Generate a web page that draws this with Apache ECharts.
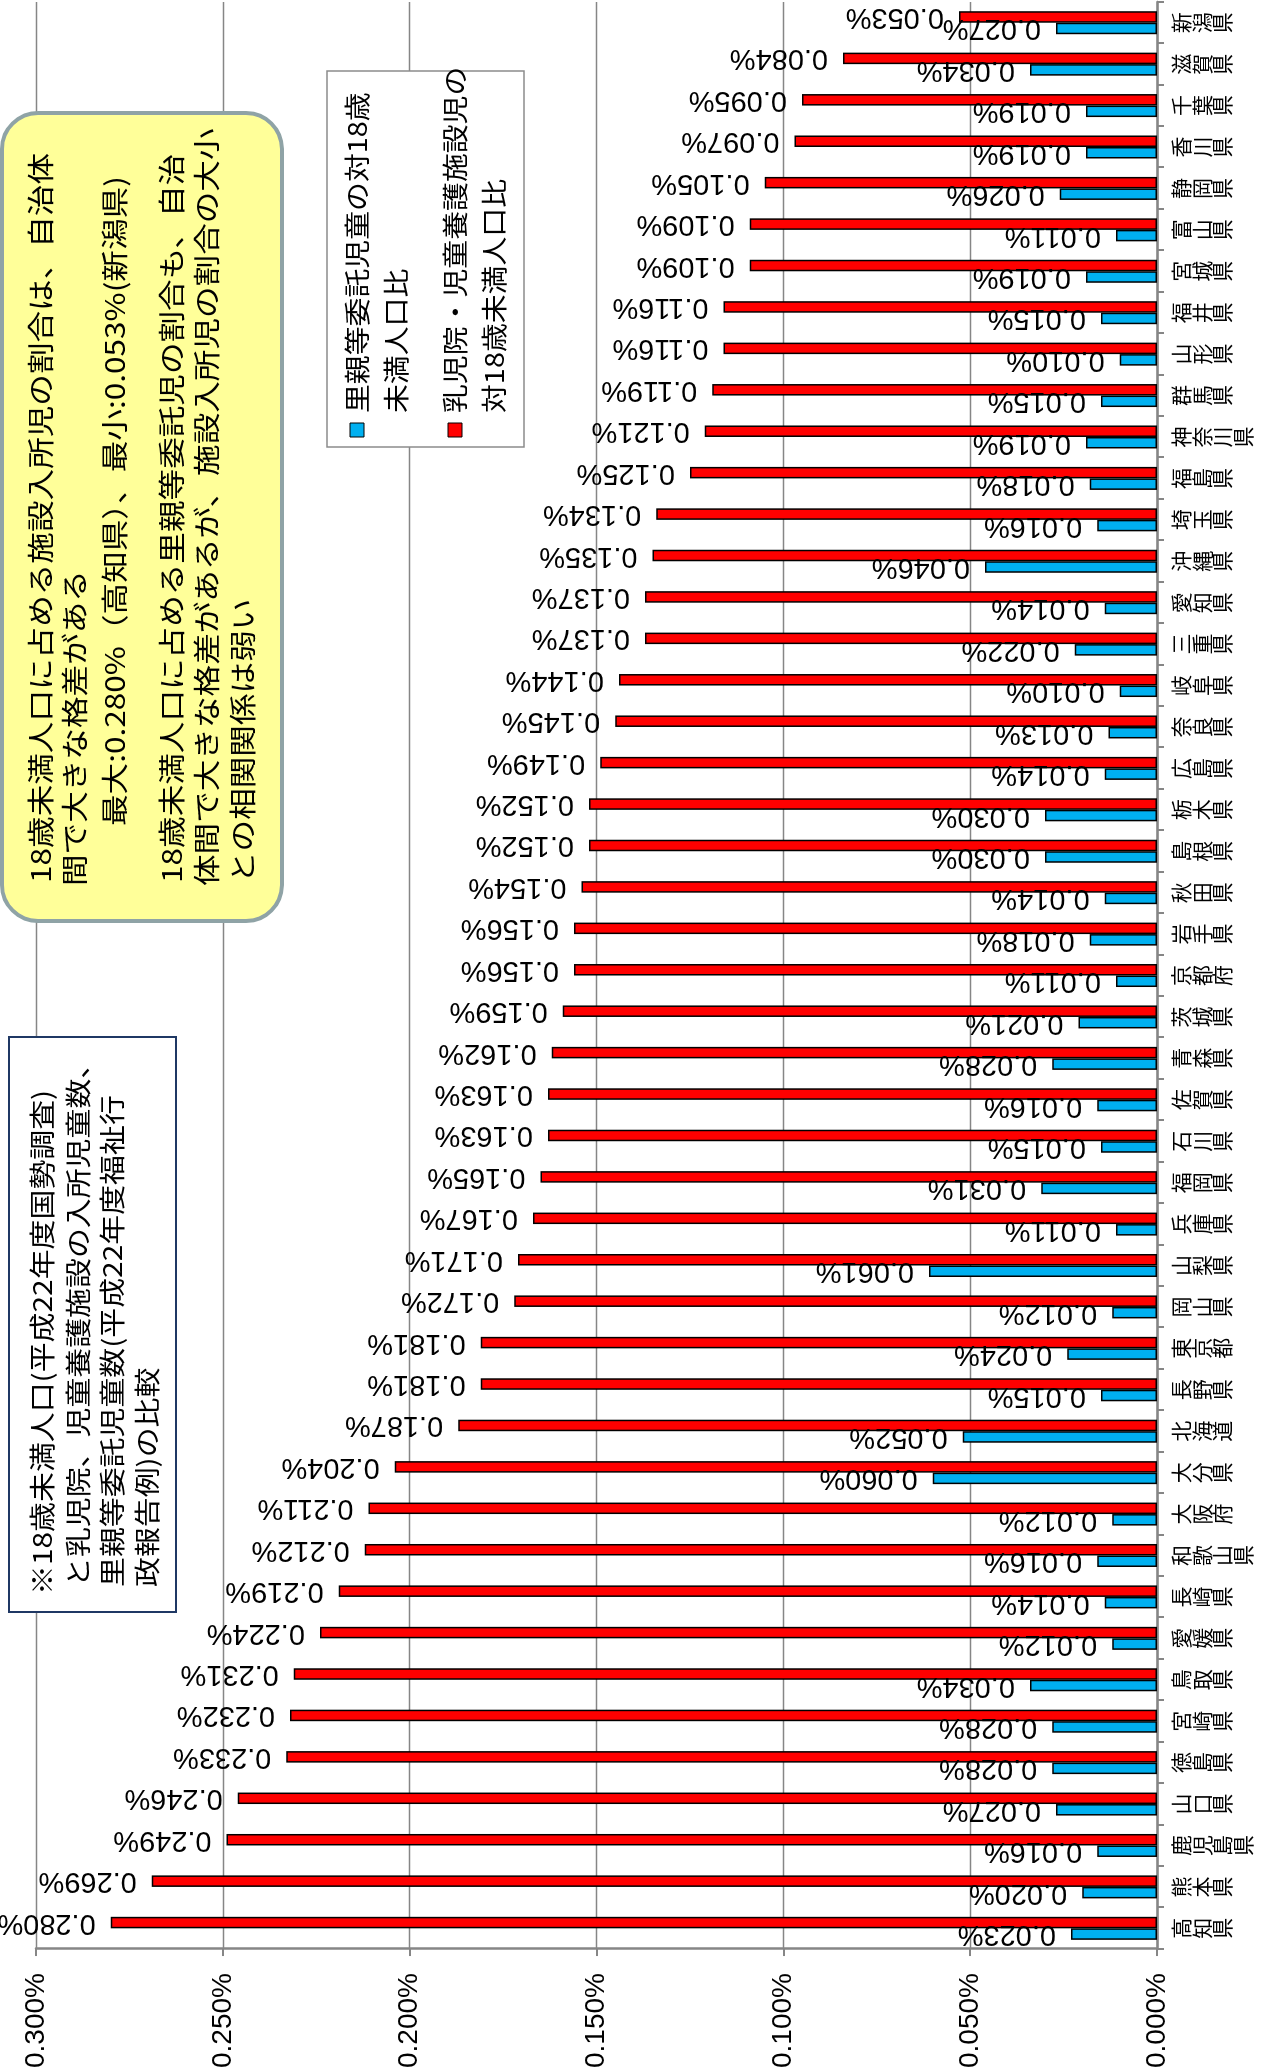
<!DOCTYPE html>
<html>
<head>
<meta charset="utf-8">
<script src="https://cdn.jsdelivr.net/npm/echarts/dist/echarts.min.js"></script>
<style>
html,body{margin:0;padding:0;background:#fff;overflow:hidden;width:1263px;height:2071px;}
#chart{position:absolute;left:0;top:0;width:2071px;height:1263px;transform-origin:0 0;transform:translateY(2071px) rotate(-90deg);}
</style>
</head>
<body>
<div id="chart"></div>
<script>
// Categories (left → right in the unrotated chart = bottom → top on the page)
const categories = ['高知県','熊本県','鹿児島県','山口県','徳島県','宮崎県','鳥取県','愛媛県','長崎県','和歌山県','大阪府','大分県','北海道','長野県','東京都','岡山県','山梨県','兵庫県','福岡県','石川県','佐賀県','青森県','茨城県','京都府','岩手県','秋田県','島根県','栃木県','広島県','奈良県','岐阜県','三重県','愛知県','沖縄県','埼玉県','福島県','神奈川県','群馬県','山形県','福井県','宮城県','富山県','静岡県','香川県','千葉県','滋賀県','新潟県'];

// 里親等委託児童の対18歳未満人口比 (%)
const fosterRate = [0.023,0.020,0.016,0.027,0.028,0.028,0.034,0.012,0.014,0.016,0.012,0.060,0.052,0.015,0.024,0.012,0.061,0.011,0.031,0.015,0.016,0.028,0.021,0.011,0.018,0.014,0.030,0.030,0.014,0.013,0.010,0.022,0.014,0.046,0.016,0.018,0.019,0.015,0.010,0.015,0.019,0.011,0.026,0.019,0.019,0.034,0.027];

// 乳児院・児童養護施設児の対18歳未満人口比 (%)
const facilityRate = [0.280,0.269,0.249,0.246,0.233,0.232,0.231,0.224,0.219,0.212,0.211,0.204,0.187,0.181,0.181,0.172,0.171,0.167,0.165,0.163,0.163,0.162,0.159,0.156,0.156,0.154,0.152,0.152,0.149,0.145,0.144,0.137,0.137,0.135,0.134,0.125,0.121,0.119,0.116,0.116,0.109,0.109,0.105,0.097,0.095,0.084,0.053];

// Value axis ticks (%)
const axisMin = 0;
const axisMax = 0.3;
const axisStep = 0.05;

const seriesNames = ['里親等委託児童の対18歳未満人口比', '乳児院・児童養護施設児の対18歳未満人口比'];
const legendLines = [['里親等委託児童の対18歳', '未満人口比'], ['乳児院・児童養護施設児の', '対18歳未満人口比']];

const summaryLines = [
  '18歳未満人口に占める施設入所児の割合は、自治体',
  '間で大きな格差がある',
  '最大:0.280%（高知県）、最小:0.053%(新潟県)',
  '18歳未満人口に占める里親等委託児の割合も、自治',
  '体間で大きな格差があるが、施設入所児の割合の大小',
  'との相関関係は弱い'
];
const noteLines = [
  '※18歳未満人口(平成22年度国勢調査)',
  'と乳児院、児童養護施設の入所児童数、',
  '里親等委託児童数(平成22年度福祉行',
  '政報告例)の比較'
];

const BLUE = '#00B0F0', RED = '#FF0000';
const NUMFONT = "'Liberation Sans Narrow','Liberation Sans',sans-serif";
const JPFONT = "'Noto Sans CJK JP',sans-serif";

function pct(v){ return v.toFixed(3) + '%'; }

function textEl(str, x, y, size, sx){
  return { type:'text', x:x, y:y, scaleX:sx, z:101,
    style:{ text:str, fill:'#000', font: size + 'px ' + JPFONT, align:'left', verticalAlign:'middle' } };
}

const graphics = [];
// summary (yellow rounded box)
graphics.push({ type:'rect', z:100, shape:{ x:1150, y:2, width:808, height:280, r:36 },
  style:{ fill:'#FFFF99', stroke:'#8FA3A6', lineWidth:4 } });
const sumY = [41, 75, 115, 172, 207, 243];
const sumX = [1188, 1185, 1245, 1188, 1185, 1188];
summaryLines.forEach((s,i)=>graphics.push(textEl(s, sumX[i], sumY[i], 27, 1.17)));
// note box
graphics.push({ type:'rect', z:100, shape:{ x:459, y:9, width:575, height:167 },
  style:{ fill:'#fff', stroke:'#1F3864', lineWidth:2 } });
const noteY = [42, 78, 112, 147];
const noteX = [476, 484, 484, 484];
noteLines.forEach((s,i)=>graphics.push(textEl(s, noteX[i], noteY[i], 26, 1.15)));
// legend
graphics.push({ type:'rect', z:100, shape:{ x:1624, y:327, width:376, height:197 },
  style:{ fill:'#fff', stroke:'#8C8C8C', lineWidth:1.5 } });
const legendColors = [BLUE, RED];
const legendY = [357, 455];
legendLines.forEach((lines,i)=>{
  graphics.push({ type:'rect', z:101, shape:{ x:1634, y:legendY[i]-7, width:14, height:14 },
    style:{ fill:legendColors[i], stroke:'#000', lineWidth:1 } });
  graphics.push(textEl(lines[0], 1658, legendY[i], 26, 1.11));
  graphics.push(textEl(lines[1], 1658, legendY[i] + 39, 26, 1.11));
});

const chart = echarts.init(document.getElementById('chart'), null, { renderer:'canvas' });
const labelCommon = {
  show:true, position:'top', rotate:90, align:'left', verticalAlign:'middle', distance:15,
  color:'#000', fontFamily:NUMFONT, fontSize:29,
  formatter:p=>pct(p.value)
};
chart.setOption({
  animation:false,
  backgroundColor:'#fff',
  grid:{ left:118, right:2, top:36, bottom:106, containLabel:false },
  legend:{ show:false, data:seriesNames },
  xAxis:{
    type:'category', data:categories,
    axisLine:{ lineStyle:{ color:'#868686', width:2.5 } },
    axisTick:{ show:true, length:7, lineStyle:{ color:'#868686', width:2 } },
    axisLabel:{ interval:0, margin:14, color:'#000', fontFamily:JPFONT, fontSize:21, lineHeight:20.5,
      formatter:v=>v.split('').join('\n') }
  },
  yAxis:{
    type:'value', min:axisMin, max:axisMax, interval:axisStep,
    axisLine:{ show:true, lineStyle:{ color:'#868686', width:2.5 } },
    axisTick:{ show:true, length:7, lineStyle:{ color:'#868686', width:2 } },
    axisLabel:{ margin:24, color:'#000', fontFamily:NUMFONT, fontSize:28, formatter:v=>pct(v) },
    splitLine:{ show:true, lineStyle:{ color:'#868686', width:1.3 } }
  },
  series:[
    { name:seriesNames[0], type:'bar', data:fosterRate, barWidth:11.5, barGap:'0%',
      itemStyle:{ color:BLUE, borderColor:'#000', borderWidth:1.5 }, label:labelCommon },
    { name:seriesNames[1], type:'bar', data:facilityRate, barWidth:11.5, barGap:'0%',
      itemStyle:{ color:RED, borderColor:'#000', borderWidth:1.5 }, label:labelCommon }
  ],
  graphic:{ elements:graphics }
});
</script>
</body>
</html>
